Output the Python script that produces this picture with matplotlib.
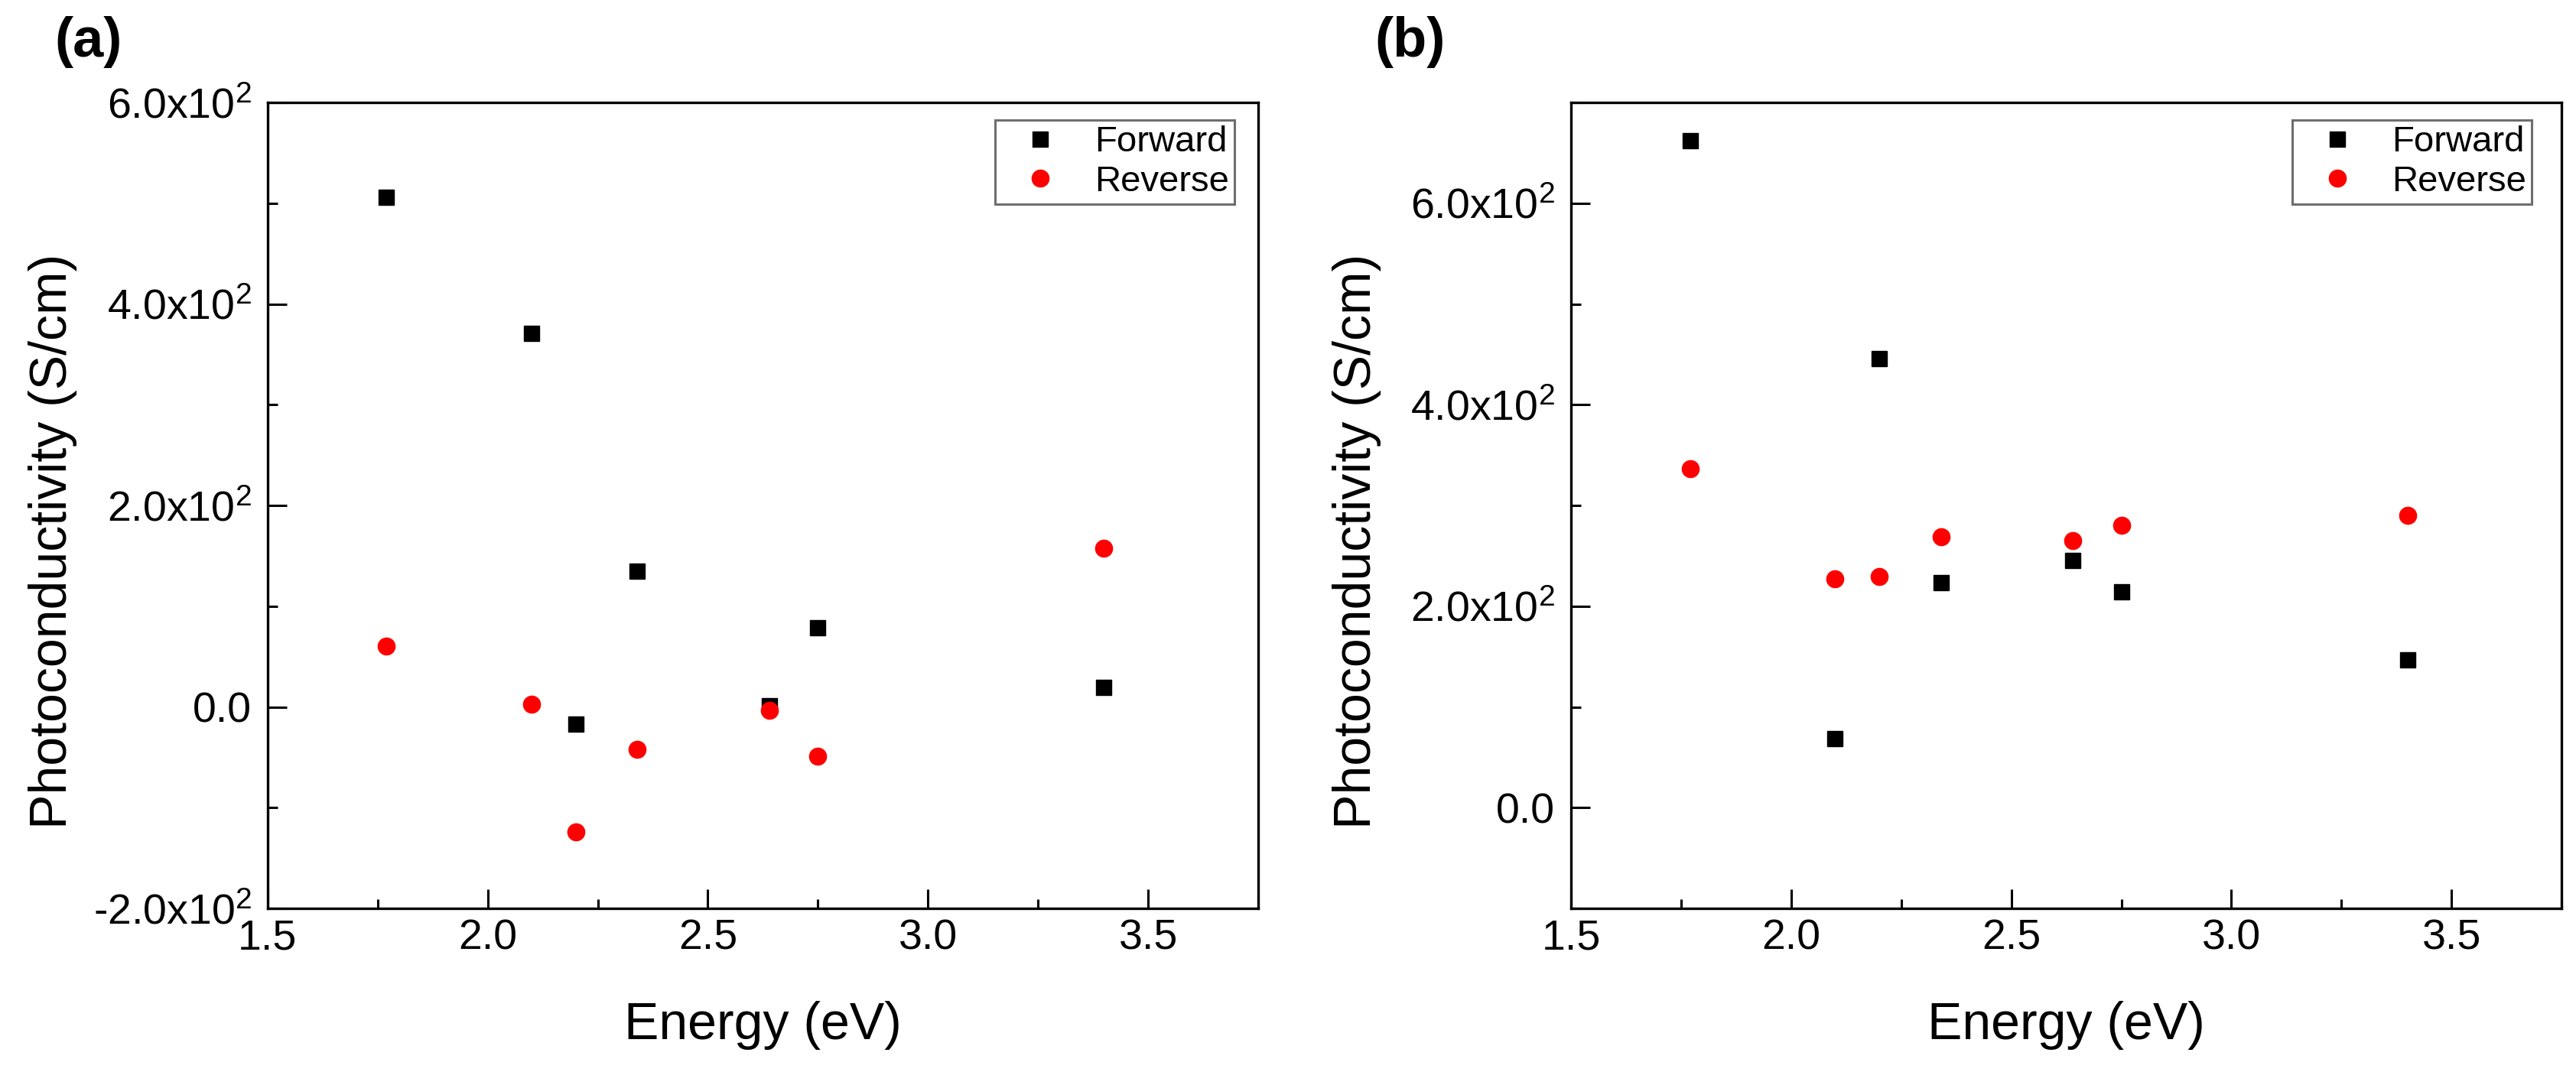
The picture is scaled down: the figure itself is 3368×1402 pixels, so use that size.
import matplotlib
matplotlib.use('Agg')
import matplotlib.pyplot as plt
from matplotlib.ticker import MultipleLocator, FixedLocator, FixedFormatter

plt.rcParams['font.family'] = ['Liberation Sans', 'DejaVu Sans']
plt.rcParams['mathtext.fontset'] = 'custom'
plt.rcParams['mathtext.rm'] = 'Liberation Sans'
plt.rcParams['mathtext.it'] = 'Liberation Sans'
plt.rcParams['mathtext.bf'] = 'Liberation Sans:bold'

energy = [1.77, 2.10, 2.20, 2.34, 2.64, 2.75, 3.40]

# panel (a)
forward_a = [505.6, 370.5, -17.3, 134.8, 1.0, 78.4, 19.4]
reverse_a = [60.1, 2.4, -123.9, -42.4, -3.7, -49.2, 157.9]

# panel (b)
forward_b = [662.4, 68.5, 446.1, 223.1, 245.4, 214.2, 146.4]
reverse_b = [336.3, 227.1, 229.8, 269.2, 265.1, 280.0, 290.2]

x_ticks = [1.5, 2.0, 2.5, 3.0, 3.5]
x_tick_labels = ['1.5', '2.0', '2.5', '3.0', '3.5']

y_ticks_a = [-200, 0, 200, 400, 600]
y_tick_labels_a = [r'-2.0x10$^{\mathrm{2}}$', '0.0', r'2.0x10$^{\mathrm{2}}$',
                   r'4.0x10$^{\mathrm{2}}$', r'6.0x10$^{\mathrm{2}}$']
y_ticks_b = [0, 200, 400, 600]
y_tick_labels_b = ['0.0', r'2.0x10$^{\mathrm{2}}$', r'4.0x10$^{\mathrm{2}}$',
                   r'6.0x10$^{\mathrm{2}}$']


def draw_panel(ax, fwd, rev, yticks, ylabels, ylim, leg_x):
    ax.plot(energy, fwd, linestyle='none', marker='s', color='black',
            markersize=14.5, label='Forward')
    ax.plot(energy, rev, linestyle='none', marker='o', color='#ff0000',
            markersize=16, label='Reverse')

    ax.set_xlim(1.5, 3.75)
    ax.set_ylim(*ylim)
    ax.xaxis.set_major_locator(FixedLocator(x_ticks))
    ax.xaxis.set_major_formatter(FixedFormatter(x_tick_labels))
    ax.xaxis.set_minor_locator(MultipleLocator(0.25))
    ax.yaxis.set_major_locator(FixedLocator(yticks))
    ax.yaxis.set_major_formatter(FixedFormatter(ylabels))
    ax.yaxis.set_minor_locator(MultipleLocator(100))

    for s in ax.spines.values():
        s.set_linewidth(2.4)
    ax.tick_params(which='both', direction='in', top=False, right=False,
                   width=2.2, labelsize=40)
    ax.tick_params(which='major', length=18)
    ax.tick_params(which='minor', length=9)
    ax.tick_params(axis='x', pad=10)
    ax.tick_params(axis='y', pad=15)

    ax.set_xlabel('Energy (eV)', fontsize=49)
    ax.set_ylabel('Photoconductivity (S/cm)', fontsize=49)
    ax.xaxis.set_label_coords(0.5, -0.115)
    ax.yaxis.set_label_coords(-0.192, 0.456)

    leg = ax.legend(loc='upper right', bbox_to_anchor=(leg_x, 0.978),
                    borderaxespad=0, fontsize=34, numpoints=1,
                    fancybox=False, framealpha=1, edgecolor='#6e6e6e',
                    borderpad=0.15, handlelength=2.2, handletextpad=0.4,
                    labelspacing=0.16)
    leg.get_frame().set_linewidth(2.2)


fig = plt.figure(figsize=(33.68, 14.02), dpi=100)
ax_a = fig.add_axes([0.1039, 0.1526, 0.3845, 0.7518])
ax_b = fig.add_axes([0.6099, 0.1526, 0.3845, 0.7518])

draw_panel(ax_a, forward_a, reverse_a, y_ticks_a, y_tick_labels_a, (-200, 600), 0.976)
draw_panel(ax_b, forward_b, reverse_b, y_ticks_b, y_tick_labels_b, (-100, 700), 0.970)

fig.text(0.0211, 0.985, '(a)', fontsize=52, fontweight='bold', va='top', ha='left')
fig.text(0.5338, 0.985, '(b)', fontsize=52, fontweight='bold', va='top', ha='left')

fig.savefig('out.png', dpi=100, facecolor='white')
